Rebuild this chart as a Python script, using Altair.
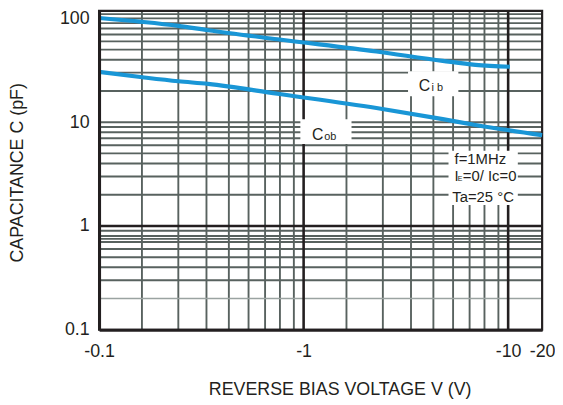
import altair as alt
import pandas as pd

# ---- axis extents (log scales) ----
X_MIN, X_MAX = 0.1, 14.66
Y_MIN, Y_MAX = 0.1, 118

X_TICKS = [0.1, 1, 10, X_MAX]
X_LABELS = ["-0.1", "-1", "-10", "-20"]
Y_TICKS = [0.1, 1, 10, 100]
Y_LABELS = ["0.1", "1", "10", "100"]

# ---- curves (|V| in volts, C in pF) ----
cib_v = [0.1, 0.163, 0.244, 0.341, 0.745, 2.27, 4.79, 6.92, 10.2]
cib_c = [101, 92.6, 84.8, 77, 63, 48, 39, 35.7, 34.2]
cob_v = [0.1, 0.163, 0.244, 0.341, 0.745, 2.27, 4.79, 6.92, 14.66]
cob_c = [30.5, 27.1, 24.8, 23.4, 18.8, 13.7, 10.7, 9.4, 7.5]

# ---- grid lines as drawn on the sheet ----
x_grid_mant = [1.62, 2.44, 3.35, 4.31, 5.38, 6.48, 7.66, 8.96]
x_grid = [m * 0.1 for m in x_grid_mant] + x_grid_mant
x_major = [1, 10]
y_grid = [0.3, 0.4, 0.5, 0.6, 0.7, 0.75, 0.8, 0.9,
          2, 3, 4, 5, 6, 7, 8, 9, 10,
          20, 30, 40, 50, 60, 70, 80, 90, 100, 110]
y_light = [0.2]
y_major = [1]

# ---- annotation boxes (white) in data coords ----
box_x1 = [3.24, 0.964, 5.11]
box_x2 = [5.71, 1.715, 11.15]
box_y1 = [30.9, 10.7, 5.32]
box_y2 = [17.8, 6.17, 1.59]

# ---- annotation texts ----
big_txt = ["C", "C"]
big_v = [3.66, 1.098]
big_c = [19.9, 6.78]
sub_txt = ["i b", "ob"]
sub_v = [4.22, 1.26]
sub_c = [20.2, 6.78]
cond_txt = ["f=1MHz", "I", "=0/ Ic=0", "Ta=25 °C"]
cond_v = [5.47, 5.47, 6.0, 5.33]
cond_c = [3.97, 2.71, 2.71, 1.71]
esub_txt = ["E"]
esub_v = [5.67]
esub_c = [2.71]

FONT = "Liberation Sans"
INK = "#231f20"
GRID = "#58625f"
BLUE = "#1996d6"

xscale = alt.Scale(type="log", domain=[X_MIN, X_MAX], nice=False)
yscale = alt.Scale(type="log", domain=[Y_MIN, Y_MAX], nice=False)


def lab_expr(ticks, labels):
    expr = "''"
    for t, l in reversed(list(zip(ticks, labels))):
        expr = f"(abs(datum.value - {t}) < {t}*0.01) ? '{l}' : " + f"({expr})"
    return expr


xaxis = alt.Axis(
    values=X_TICKS, labelExpr=lab_expr(X_TICKS, X_LABELS), grid=False,
    ticks=False, tickSize=0, domain=True, domainColor=INK, domainWidth=3,
    labelPadding=27, labelBaseline="alphabetic", labelFont=FONT,
    labelFontSize=18, labelColor=INK, labelOverlap=False, labelFlush=False,
    labelBound=False, title="REVERSE BIAS VOLTAGE V (V)", titleFont=FONT,
    titleFontSize=18, titleFontWeight="normal", titleColor=INK,
    titleX=243, titleY=65, titleBaseline="alphabetic", titleAlign="center",
    zindex=1,
)
yaxis = alt.Axis(
    values=Y_TICKS, labelExpr=lab_expr(Y_TICKS, Y_LABELS), grid=False,
    ticks=False, tickSize=0, domain=True, domainColor=INK, domainWidth=3,
    labelPadding=10, labelBaseline="middle", labelFont=FONT,
    labelFontSize=18, labelColor=INK, labelOverlap=False, labelFlush=False,
    labelBound=False, title="CAPACITANCE C (pF)", titleFont=FONT,
    titleFontSize=18, titleFontWeight="normal", titleColor=INK,
    titleAngle=270, titleX=-77.5, titleY=163, titleBaseline="alphabetic",
    titleAlign="center", zindex=1,
)


def X(f):
    return alt.X(f, type="quantitative", scale=xscale, axis=xaxis)


def Y(f):
    return alt.Y(f, type="quantitative", scale=yscale, axis=yaxis)


vgrid = alt.Chart(pd.DataFrame({"v": x_grid})).mark_rule(
    color=GRID, strokeWidth=1.9).encode(x=X("v"))
hgrid = alt.Chart(pd.DataFrame({"c": y_grid})).mark_rule(
    color=GRID, strokeWidth=1.9).encode(y=Y("c"))
hlight = alt.Chart(pd.DataFrame({"c": y_light})).mark_rule(
    color="#9aa3a1", strokeWidth=1.6).encode(y=Y("c"))
vmajor = alt.Chart(pd.DataFrame({"v": x_major})).mark_rule(
    color=INK, strokeWidth=2.6).encode(x=X("v"))
hmajor = alt.Chart(pd.DataFrame({"c": y_major})).mark_rule(
    color=INK, strokeWidth=2.6).encode(y=Y("c"))

border = alt.Chart(pd.DataFrame({"x1": [X_MIN], "x2": [X_MAX],
                                 "y1": [Y_MIN], "y2": [Y_MAX]})).mark_rect(
    fill=None, stroke=INK, strokeWidth=2.2).encode(
    x=X("x1"), x2="x2", y=Y("y1"), y2="y2")

boxes = alt.Chart(pd.DataFrame({"x1": box_x1, "x2": box_x2,
                                "y1": box_y1, "y2": box_y2})).mark_rect(
    fill="white").encode(x=X("x1"), x2="x2", y=Y("y1"), y2="y2")

curves_df = pd.concat([
    pd.DataFrame({"v": cib_v, "c": cib_c, "s": "Cib"}),
    pd.DataFrame({"v": cob_v, "c": cob_c, "s": "Cob"}),
])
curves = alt.Chart(curves_df).mark_line(
    color=BLUE, strokeWidth=4.2, interpolate="monotone").encode(
    x=X("v"), y=Y("c"), detail="s:N")

big = alt.Chart(pd.DataFrame({"v": big_v, "c": big_c, "t": big_txt})).mark_text(
    font=FONT, fontSize=16, align="left", baseline="alphabetic", color=INK).encode(
    x=X("v"), y=Y("c"), text="t:N")
sub = alt.Chart(pd.DataFrame({"v": sub_v, "c": sub_c, "t": sub_txt})).mark_text(
    font=FONT, fontSize=11, align="left", baseline="alphabetic", color=INK).encode(
    x=X("v"), y=Y("c"), text="t:N")
cond = alt.Chart(pd.DataFrame({"v": cond_v, "c": cond_c, "t": cond_txt})).mark_text(
    font=FONT, fontSize=15, align="left", baseline="alphabetic", color=INK).encode(
    x=X("v"), y=Y("c"), text="t:N")
esub = alt.Chart(pd.DataFrame({"v": esub_v, "c": esub_c, "t": esub_txt})).mark_text(
    font=FONT, fontSize=7, align="left", baseline="alphabetic", color=INK).encode(
    x=X("v"), y=Y("c"), text="t:N")

chart = alt.layer(
    vgrid, hgrid, hlight, vmajor, hmajor, boxes, border, curves,
    big, sub, cond, esub,
).properties(
    width=447.5, height=322,
    autosize=alt.AutoSizeParams(type="none"),
    padding={"left": 92, "top": 1, "right": 13, "bottom": 71},
    background="white",
).configure_view(stroke=None)

chart.save("out.html", embed_options={"renderer": "svg", "actions": False})
